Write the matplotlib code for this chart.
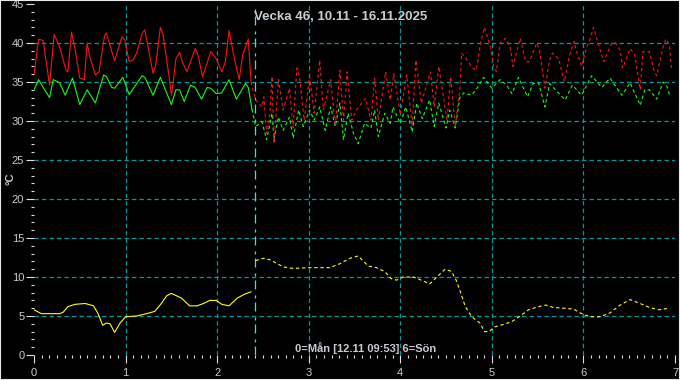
import matplotlib
matplotlib.use("Agg")
from matplotlib import pyplot as plt
from matplotlib.patches import Rectangle
from matplotlib.ticker import MultipleLocator

# measured (solid) part, x in days from monday
red_x = [0.0, 0.05, 0.1, 0.17, 0.22, 0.28, 0.35, 0.37, 0.41, 0.45, 0.5, 0.55, 0.58, 0.61,
         0.67, 0.71, 0.77, 0.79, 0.88, 0.96, 0.99, 1.04, 1.08, 1.12, 1.18, 1.21, 1.3, 1.33,
         1.38, 1.41, 1.48, 1.5, 1.52, 1.55, 1.59, 1.62, 1.67, 1.76, 1.79, 1.84, 1.89, 1.93,
         1.99, 2.05, 2.09, 2.13, 2.18, 2.24, 2.28, 2.34, 2.37]
red_y = [35.9, 40.5, 40.3, 34.6, 41.1, 39.5, 36.5, 36.3, 41.4, 39.1, 35.5, 35.3, 40.0, 38.2,
         35.9, 36.3, 40.9, 41.3, 37.7, 40.8, 40.4, 37.6, 37.8, 38.7, 41.2, 41.7, 36.1, 37.2,
         42.0, 41.0, 35.3, 33.3, 35.0, 38.0, 38.8, 37.6, 36.3, 39.3, 38.5, 35.7, 37.4, 38.9,
         38.0, 36.3, 37.6, 41.6, 38.5, 35.3, 38.5, 40.5, 35.0]

green_x = [0.0, 0.05, 0.09, 0.17, 0.21, 0.28, 0.34, 0.42, 0.5, 0.58, 0.67, 0.76, 0.79, 0.85,
           0.88, 0.97, 1.04, 1.18, 1.21, 1.3, 1.38, 1.5, 1.55, 1.59, 1.64, 1.71, 1.76, 1.83,
           1.89, 1.93, 1.99, 2.05, 2.13, 2.21, 2.31, 2.34, 2.38]
green_y = [34.0, 35.3, 34.5, 33.0, 35.3, 34.9, 33.3, 35.5, 32.1, 34.0, 32.3, 35.9, 35.7, 34.3,
           34.2, 35.6, 33.4, 35.8, 35.6, 33.3, 35.6, 32.1, 34.0, 34.0, 32.5, 34.6, 34.3, 32.8,
           34.3, 34.2, 33.5, 33.6, 35.3, 32.8, 34.8, 34.3, 31.5]

yellow_x = [0.0, 0.08, 0.17, 0.23, 0.28, 0.32, 0.37, 0.45, 0.56, 0.65, 0.7, 0.75, 0.79, 0.83,
            0.88, 0.94, 1.0, 1.12, 1.23, 1.32, 1.39, 1.45, 1.5, 1.61, 1.7, 1.78, 1.85, 1.92,
            1.99, 2.05, 2.13, 2.22, 2.3, 2.37]
yellow_y = [5.8, 5.3, 5.3, 5.3, 5.3, 5.5, 6.2, 6.5, 6.6, 6.3, 5.3, 3.8, 4.1, 4.0,
            2.9, 4.1, 4.9, 5.0, 5.3, 5.6, 6.6, 7.6, 7.9, 7.3, 6.3, 6.3, 6.6, 7.0,
            7.0, 6.5, 6.3, 7.3, 7.8, 8.1]

# forecast (dashed) part
red_fx = [2.42, 2.49, 2.51, 2.54, 2.57, 2.6, 2.62, 2.67, 2.72, 2.79, 2.83, 2.87, 2.9, 2.95,
          3.01, 3.06, 3.12, 3.16, 3.24, 3.29, 3.34, 3.38, 3.42, 3.47, 3.52, 3.62, 3.68, 3.72,
          3.76, 3.84, 3.89, 3.93, 4.0, 4.07, 4.13, 4.17, 4.23, 4.33, 4.37, 4.42, 4.51, 4.55,
          4.6, 4.65, 4.67, 4.72, 4.79, 4.83, 4.88, 4.92, 4.98, 5.02, 5.05, 5.09, 5.15, 5.2,
          5.23, 5.31, 5.37, 5.41, 5.49, 5.52, 5.58, 5.63, 5.66, 5.73, 5.79, 5.85, 5.9, 5.92,
          5.98, 6.03, 6.07, 6.11, 6.16, 6.22, 6.31, 6.35, 6.4, 6.43, 6.51, 6.56, 6.62, 6.65,
          6.72, 6.77, 6.8, 6.87, 6.9, 6.94, 6.96]
red_fy = [32.7, 31.8, 33.1, 28.4, 30.1, 35.7, 27.1, 35.3, 31.4, 34.2, 29.1, 36.8, 35.7, 30.1,
          35.7, 31.0, 37.8, 31.4, 35.3, 29.3, 36.5, 30.1, 36.3, 30.1, 31.4, 32.9, 30.1, 35.5,
          30.1, 36.3, 32.7, 36.1, 30.8, 35.9, 29.3, 37.8, 32.3, 36.3, 31.8, 37.0, 30.1, 35.7,
          29.3, 34.0, 38.7, 38.0, 36.8, 36.5, 40.2, 42.0, 39.7, 37.0, 36.3, 40.0, 40.6, 39.5,
          37.0, 40.6, 37.6, 37.6, 40.0, 39.1, 34.2, 37.8, 38.7, 38.0, 35.0, 38.5, 40.2, 39.1,
          37.0, 39.3, 40.4, 42.0, 40.0, 37.6, 40.0, 40.0, 39.1, 36.8, 39.3, 38.5, 34.0, 38.9,
          38.9, 36.5, 35.8, 39.5, 40.5, 39.7, 36.8]

green_fx = [2.42, 2.49, 2.54, 2.6, 2.62, 2.67, 2.72, 2.79, 2.83, 2.89, 2.94, 3.01, 3.06, 3.12,
            3.18, 3.24, 3.29, 3.34, 3.38, 3.43, 3.49, 3.54, 3.61, 3.68, 3.72, 3.76, 3.83, 3.89,
            3.92, 4.0, 4.06, 4.13, 4.18, 4.24, 4.32, 4.37, 4.42, 4.5, 4.54, 4.6, 4.65, 4.69,
            4.78, 4.85, 4.91, 5.0, 5.09, 5.16, 5.22, 5.29, 5.39, 5.45, 5.51, 5.58, 5.63, 5.71,
            5.8, 5.88, 5.98, 6.09, 6.2, 6.29, 6.42, 6.51, 6.62, 6.67, 6.72, 6.8, 6.87, 6.92, 6.94]
green_fy = [29.3, 29.9, 27.6, 31.0, 27.6, 30.5, 28.8, 30.5, 27.8, 31.4, 29.3, 31.4, 30.1, 31.8,
            28.8, 31.8, 29.3, 32.3, 27.6, 31.0, 28.4, 27.1, 29.7, 29.1, 31.4, 28.0, 31.0, 29.7,
            31.8, 29.7, 31.8, 28.6, 32.3, 30.3, 32.7, 29.3, 32.3, 29.1, 31.4, 29.1, 33.0, 33.6,
            33.3, 34.4, 35.6, 34.2, 35.3, 34.6, 33.5, 35.6, 33.1, 34.8, 34.9, 31.8, 34.8, 33.8,
            32.7, 34.6, 33.3, 35.8, 34.3, 35.5, 33.3, 34.9, 32.0, 34.0, 34.0, 32.8, 35.0, 34.3, 33.3]

yellow_fx = [2.42, 2.5, 2.58, 2.72, 2.83, 3.01, 3.23, 3.34, 3.45, 3.54, 3.65, 3.74, 3.83, 3.9,
             3.96, 4.03, 4.14, 4.25, 4.32, 4.4, 4.49, 4.56, 4.61, 4.65, 4.71, 4.78, 4.87, 4.92,
             4.97, 5.03, 5.12, 5.22, 5.31, 5.4, 5.51, 5.59, 5.67, 5.78, 5.89, 5.98, 6.07, 6.18,
             6.29, 6.4, 6.51, 6.62, 6.72, 6.82, 6.94]
yellow_fy = [12.1, 12.4, 12.2, 11.3, 11.1, 11.2, 11.2, 11.7, 12.4, 12.7, 11.4, 11.2, 10.7, 9.8,
             9.6, 10.0, 10.0, 9.5, 9.1, 10.0, 11.0, 10.7, 9.6, 8.3, 6.2, 4.9, 4.1, 3.0,
             3.0, 3.6, 3.9, 4.3, 5.0, 5.8, 6.2, 6.4, 6.1, 6.0, 5.9, 5.3, 4.9, 4.9,
             5.4, 6.4, 7.1, 6.6, 6.1, 5.8, 6.0]

now_x = 2.41
title = "Vecka 46, 10.11 - 16.11.2025"
xlabel = "0=Mån [12.11 09:53] 6=Sön"

plt.rcParams['font.family'] = ['Liberation Sans', 'DejaVu Sans']
txt = "#c8ccd4"

fig = plt.figure(figsize=(6.8, 3.8), dpi=100, facecolor="black")
ax = fig.add_axes([34 / 680, 25 / 380, 641 / 680, 351 / 380])
ax.set_facecolor("black")
fig.patches.append(Rectangle((0, 0), 1, 1, transform=fig.transFigure, fill=False,
                             edgecolor="#e8e8e8", linewidth=1.5))

ax.set_xlim(0, 7)
ax.set_ylim(0, 45)
for s in ax.spines.values():
    s.set_visible(False)

ax.xaxis.set_major_locator(MultipleLocator(1))
ax.xaxis.set_minor_locator(MultipleLocator(1 / 12))
ax.yaxis.set_major_locator(MultipleLocator(5))
ax.yaxis.set_minor_locator(MultipleLocator(1))
ax.tick_params(which="major", colors="#e0e0e0", labelcolor=txt, length=6, width=0.8,
               labelsize=8, pad=1)
ax.tick_params(which="minor", colors="#e0e0e0", length=2.5, width=0.8)
ax.tick_params(axis="x", which="major", pad=3)

for v in range(5, 45, 5):
    ax.axhline(v, color="#00999c", lw=0.9, ls=(0, (3.5, 2.5)), zorder=1)
for v in range(1, 7):
    ax.axvline(v, color="#00999c", lw=0.9, ls=(0, (3.5, 2.5)), zorder=1)
ax.axvline(now_x, color="#30e4f4", lw=0.9, ls=(0, (7.2, 3.2, 2.4, 4.8)), zorder=2)

dash = (0, (3, 2.5))
lw = 0.8
ax.plot(red_x, red_y, color="#ff1010", lw=lw, zorder=4)
ax.plot(green_x, green_y, color="#10ff10", lw=lw, zorder=3)
ax.plot(yellow_x, yellow_y, color="#ffff10", lw=lw, zorder=3)
ax.plot([red_x[-1]] + red_fx, [red_y[-1]] + red_fy, color="#ff1010", lw=lw, ls=dash, zorder=4)
ax.plot([green_x[-1]] + green_fx, [green_y[-1]] + green_fy, color="#10ff10", lw=lw, ls=dash, zorder=3)
ax.plot(yellow_fx, yellow_fy, color="#ffff10", lw=lw, ls=dash, zorder=3)

fig.text(341 / 680, 1 - 17 / 380, title, color=txt, fontsize=9.5, fontweight="bold",
         ha="center", va="center")
fig.text(366 / 680, 1 - 348 / 380, xlabel, color=txt, fontsize=8, fontweight="bold",
         ha="center", va="center")
fig.text(10 / 680, 1 - 179 / 380, "°C", color=txt, fontsize=8, fontweight="bold",
         rotation=90, ha="center", va="center")

fig.savefig("out.png", dpi=100, facecolor="black")
